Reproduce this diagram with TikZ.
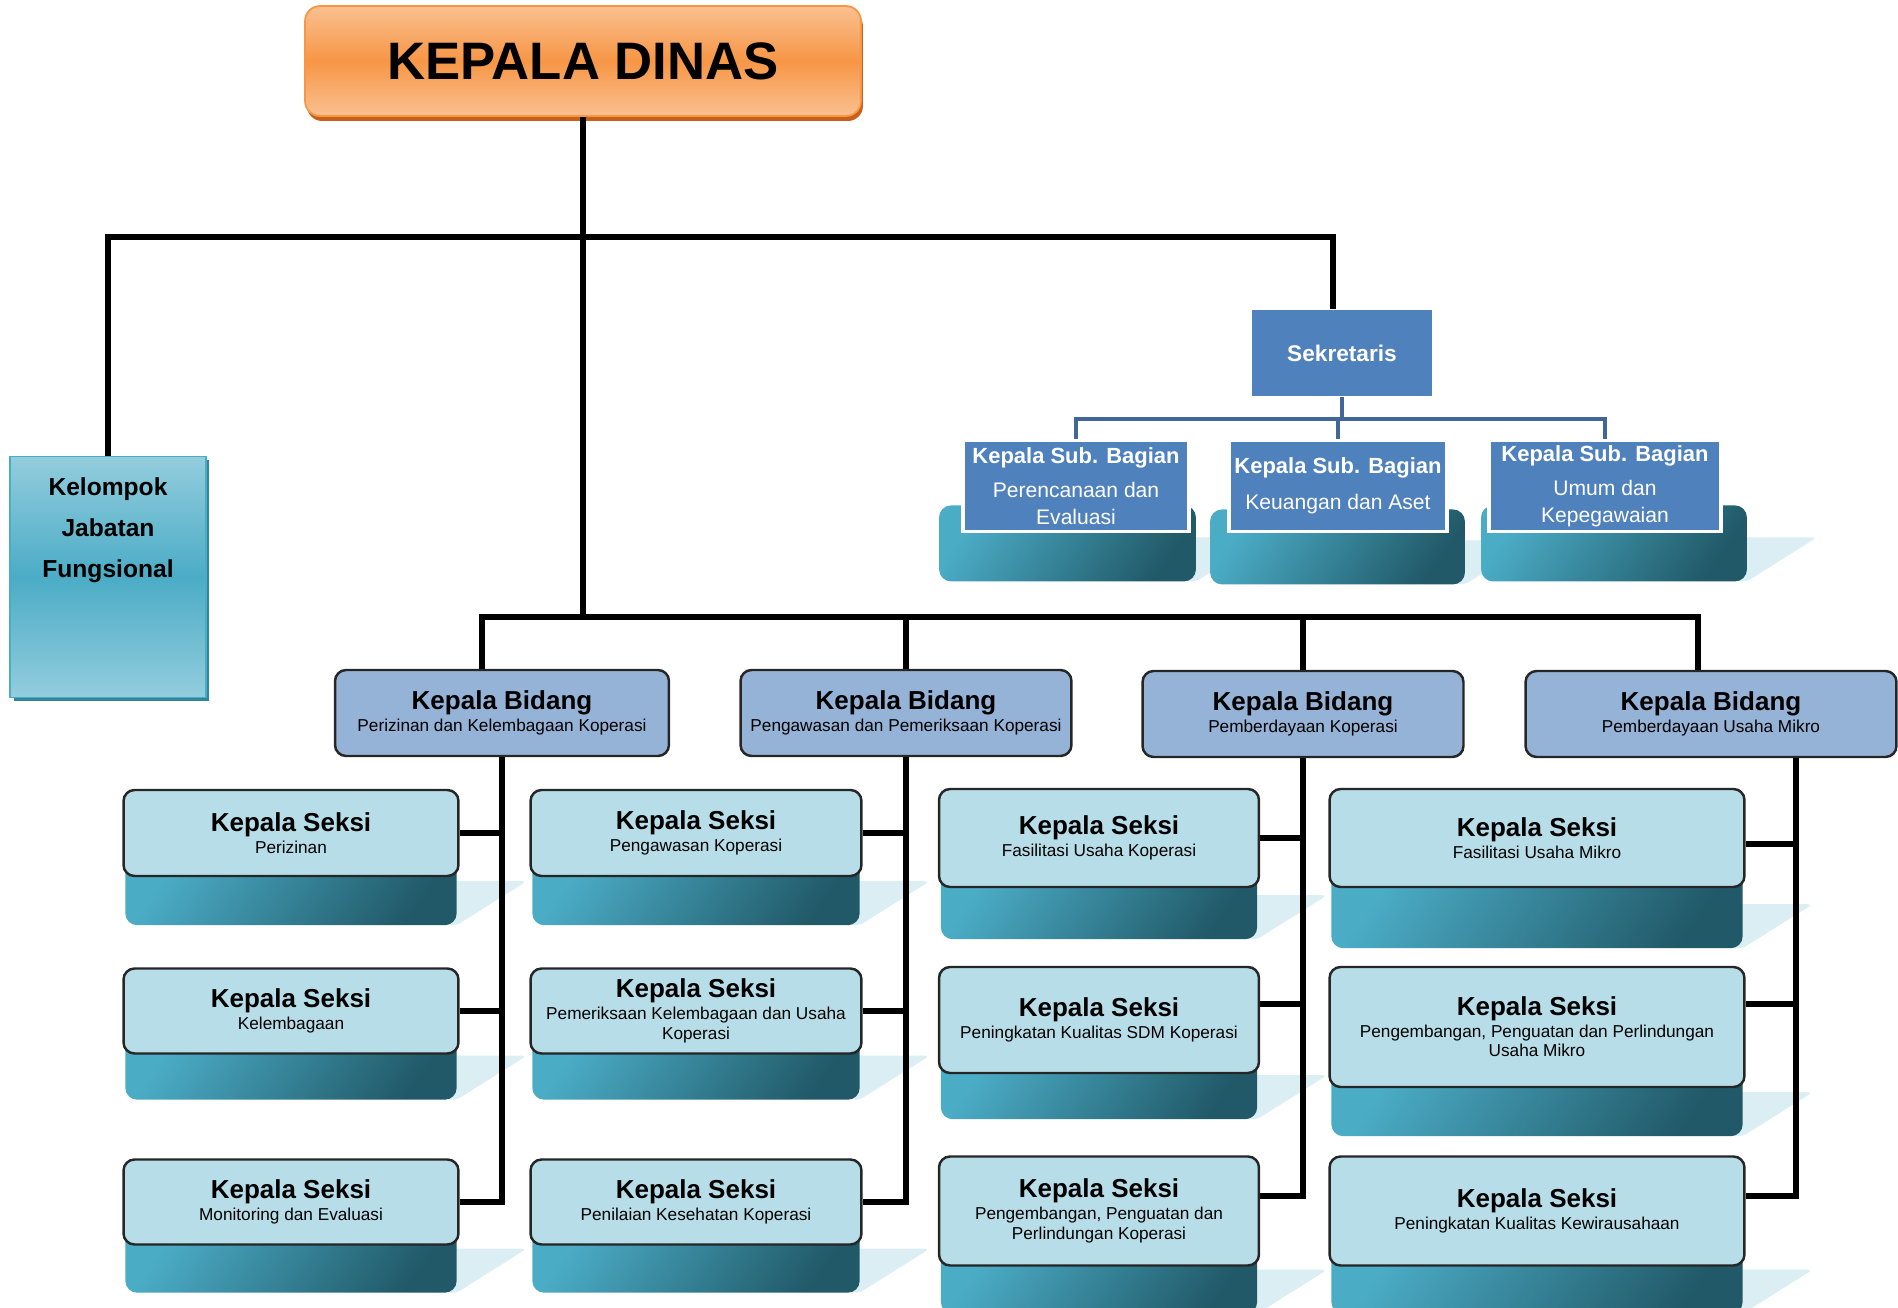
\documentclass[tikz,border=0pt]{standalone}
\usepackage{fontspec}
\setmainfont{Liberation Sans}
\usetikzlibrary{calc}
\usetikzlibrary{backgrounds}
\usetikzlibrary{shadows}

\definecolor{kdlight}{HTML}{FAC090}
\definecolor{kdmid}{HTML}{F79646}
\definecolor{kdshade}{HTML}{C8601A}
\definecolor{kjflight}{HTML}{93CDDD}
\definecolor{kjfmid}{HTML}{4BACC6}
\definecolor{kjfshade}{HTML}{31859C}
\definecolor{sekblue}{HTML}{4F81BD}
\definecolor{subline}{HTML}{41679A}
\definecolor{bidblue}{HTML}{95B3D7}
\definecolor{seksiblue}{HTML}{B7DEE8}
\definecolor{teallight}{HTML}{4BACC6}
\definecolor{tealdark}{HTML}{215968}
\definecolor{palecyan}{HTML}{DAEEF3}

\newcommand{\jabatan}[1]{{\fontsize{14.8}{12.5}\selectfont\bfseries #1}}
\newcommand{\subjudul}[1]{{\fontsize{12.5}{15.4}\selectfont\bfseries #1}}
% back plate behind a box: node, left, right, top, bottom (offsets from its south side)
\newcommand{\backbox}[5]{%
  \fill[backshadow] ($(#1.south east)+(#3-10,#5-44)$) -- ++(80,0) -- ($(#1.south east)+(#3,#5)$) -- ++(-10,0) -- cycle;
  \shade[backfill] ($(#1.south west)+(#2,#4)$) rectangle ($(#1.south east)+(#3,#5)$);
}

\tikzset{
  conn/.style={line width=3pt},
  subconn/.style={draw=subline, line width=2.4pt},
  kdbox/.style={rectangle, rounded corners=0.3cm, draw=kdmid, line width=1pt,
    top color=kdlight, bottom color=kdlight, middle color=kdmid,
    drop shadow={shadow xshift=0.04cm, shadow yshift=-0.1cm, fill=kdshade, opacity=1},
    minimum width=11.12cm, minimum height=2.2cm, font=\fontsize{30}{36}\selectfont\bfseries},
  kjfbox/.style={rectangle, draw=kjfmid, line width=1pt,
    top color=kjflight, bottom color=kjflight, middle color=kjfmid,
    drop shadow={shadow xshift=0.07cm, shadow yshift=-0.07cm, fill=kjfshade, opacity=1},
    minimum width=3.92cm, minimum height=4.82cm},
  sekbox/.style={rectangle, fill=sekblue, text=white, minimum width=3.62cm, minimum height=1.74cm,
    font=\fontsize{12.9}{15}\selectfont\bfseries},
  subbox/.style={rectangle, fill=sekblue, draw=white, line width=2.2pt, text=white,
    minimum height=1.82cm, inner sep=0pt, align=center, font=\fontsize{12}{15.4}\selectfont},
  bidbox/.style={rectangle, rounded corners=0.22cm, fill=bidblue, draw=black!85, line width=1.4pt,
    minimum height=1.72cm, inner sep=0pt, align=center, font=\fontsize{9.8}{12.5}\selectfont},
  seksibox/.style={rectangle, rounded corners=0.22cm, fill=seksiblue, draw=black!85, line width=1.4pt,
    inner sep=0pt, align=center, font=\fontsize{9.8}{12.5}\selectfont},
  backfill/.style={rounded corners=0.24cm, top color=teallight, bottom color=tealdark, shading angle=55},
  backshadow/.style={fill=palecyan, rounded corners=0.1cm}
}

\begin{document}
\begin{tikzpicture}[x=0.02cm, y=-0.02cm]

  \useasboundingbox (0,0) rectangle (1898,1308);

  % Define nodes
  \node[kdbox] (kd) at (583,61) {KEPALA DINAS};
  \node[kjfbox, label={[anchor=north, yshift=-0.44cm, inner sep=0pt, align=center,
    font=\fontsize{14}{23.3}\selectfont\bfseries]north:Kelompok\\Jabatan\\Fungsional}] (kjf) at (108,577) {};
  \node[sekbox] (sek) at (1342,353) {Sekretaris};

  \node[subbox, minimum width=4.52cm] (sbA) at (1076,486) {\subjudul{Kepala Sub. Bagian}\\[4pt]Perencanaan dan\\Evaluasi};
  \node[subbox, minimum width=4.36cm] (sbB) at (1338,486) {\subjudul{Kepala Sub. Bagian}\\[5pt]Keuangan dan Aset};
  \node[subbox, minimum width=4.64cm] (sbC) at (1605,486) {\subjudul{Kepala Sub. Bagian}\\[4pt]Umum dan\\Kepegawaian};

  \node[bidbox, minimum width=6.68cm] (b1) at (502,713) {\jabatan{Kepala Bidang}\\Perizinan dan Kelembagaan Koperasi};
  \node[bidbox, minimum width=6.62cm] (b2) at (906,713) {\jabatan{Kepala Bidang}\\Pengawasan dan Pemeriksaan Koperasi};
  \node[bidbox, minimum width=6.42cm] (b3) at (1303,714) {\jabatan{Kepala Bidang}\\Pemberdayaan Koperasi};
  \node[bidbox, minimum width=7.42cm] (b4) at (1711,714) {\jabatan{Kepala Bidang}\\Pemberdayaan Usaha Mikro};

  \node[seksibox, minimum width=6.7cm, minimum height=1.72cm] (s11) at (291,833) {\jabatan{Kepala Seksi}\\Perizinan};
  \node[seksibox, minimum width=6.7cm, minimum height=1.7cm] (s12) at (291,1011) {\jabatan{Kepala Seksi}\\Kelembagaan};
  \node[seksibox, minimum width=6.7cm, minimum height=1.7cm] (s13) at (291,1202) {\jabatan{Kepala Seksi}\\Monitoring dan Evaluasi};

  \node[seksibox, minimum width=6.62cm, minimum height=1.72cm] (s21) at (696,833) {\jabatan{Kepala Seksi}\\Pengawasan Koperasi};
  \node[seksibox, minimum width=6.62cm, minimum height=1.7cm] (s22) at (696,1011) {\jabatan{Kepala Seksi}\\Pemeriksaan Kelembagaan dan Usaha\\[-1.5pt]Koperasi};
  \node[seksibox, minimum width=6.62cm, minimum height=1.7cm] (s23) at (696,1202) {\jabatan{Kepala Seksi}\\Penilaian Kesehatan Koperasi};

  \node[seksibox, minimum width=6.4cm, minimum height=1.96cm] (s31) at (1099,838) {\jabatan{Kepala Seksi}\\Fasilitasi Usaha Koperasi};
  \node[seksibox, minimum width=6.4cm, minimum height=2.12cm] (s32) at (1099,1020) {\jabatan{Kepala Seksi}\\Peningkatan Kualitas SDM Koperasi};
  \node[seksibox, minimum width=6.4cm, minimum height=2.18cm] (s33) at (1099,1211) {\jabatan{Kepala Seksi}\\Pengembangan, Penguatan dan\\[-1.5pt]Perlindungan Koperasi};

  \node[seksibox, minimum width=8.3cm, minimum height=1.96cm] (s41) at (1537,838) {\jabatan{Kepala Seksi}\\Fasilitasi Usaha Mikro};
  \node[seksibox, minimum width=8.3cm, minimum height=2.4cm] (s42) at (1537,1027) {\jabatan{Kepala Seksi}\\Pengembangan, Penguatan dan Perlindungan\\[-1.5pt]Usaha Mikro};
  \node[seksibox, minimum width=8.3cm, minimum height=2.18cm] (s43) at (1537,1211) {\jabatan{Kepala Seksi}\\Peningkatan Kualitas Kewirausahaan};

  % Back plates
  \begin{pgfonlayer}{background}
    \backbox{sbA}{-22}{5}{-28}{48}
    \backbox{sbB}{-17}{16}{-24}{51}
    \backbox{sbC}{-6}{24}{-28}{48}
    \backbox{s11}{3}{-3}{-20}{48}
    \backbox{s12}{3}{-3}{-20}{45}
    \backbox{s13}{3}{-3}{-20}{47}
    \backbox{s21}{3}{-3}{-20}{48}
    \backbox{s22}{3}{-3}{-20}{45}
    \backbox{s23}{3}{-3}{-20}{47}
    \backbox{s31}{3}{-3}{-20}{51}
    \backbox{s32}{3}{-3}{-20}{45}
    \backbox{s33}{3}{-3}{-20}{47}
    \backbox{s41}{3}{-3}{-20}{60}
    \backbox{s42}{3}{-3}{-20}{48}
    \backbox{s43}{3}{-3}{-20}{47}
  \end{pgfonlayer}

  % Connect the nodes
  \coordinate (topR) at (1333,237);
  \coordinate (busL) at (482,617);
  \coordinate (busR) at (1698,617);
  \coordinate (sbus) at (1342,419);
  \coordinate (d4) at ($(b4.south)+(85,0)$);

  \draw[conn] (kd.south) -- (kd.south |- busL);
  \draw[conn] (kjf.north) |- (topR) -- (topR |- sek.north);
  \draw[conn] (b1.north -| busL) -- (busL) -- (busR) -- (b4.north -| busR);
  \draw[conn] (b2.north) -- (b2.north |- busL);
  \draw[conn] (b3.north) -- (b3.north |- busL);

  \draw[subconn] (sek.south) -- (sbus);
  \draw[subconn] (sbA.north) |- (sbus) -| (sbC.north);
  \draw[subconn] (sbB.north) -- (sbB.north |- sbus);

  \draw[conn] (b1.south) |- (s11.east);
  \draw[conn] (b1.south) |- (s12.east);
  \draw[conn] (b1.south) |- (s13.east);
  \draw[conn] (b2.south) |- (s21.east);
  \draw[conn] (b2.south) |- (s22.east);
  \draw[conn] (b2.south) |- (s23.east);
  \draw[conn] (b3.south) |- (s31.east);
  \draw[conn] (b3.south) |- ($(s32.east)+(0,-16)$);
  \draw[conn] (b3.south) |- ($(s33.east)+(0,-15)$);
  \draw[conn] (d4) |- ($(s41.east)+(0,6)$);
  \draw[conn] (d4) |- ($(s42.east)+(0,-23)$);
  \draw[conn] (d4) |- ($(s43.east)+(0,-15)$);

\end{tikzpicture}
\end{document}
